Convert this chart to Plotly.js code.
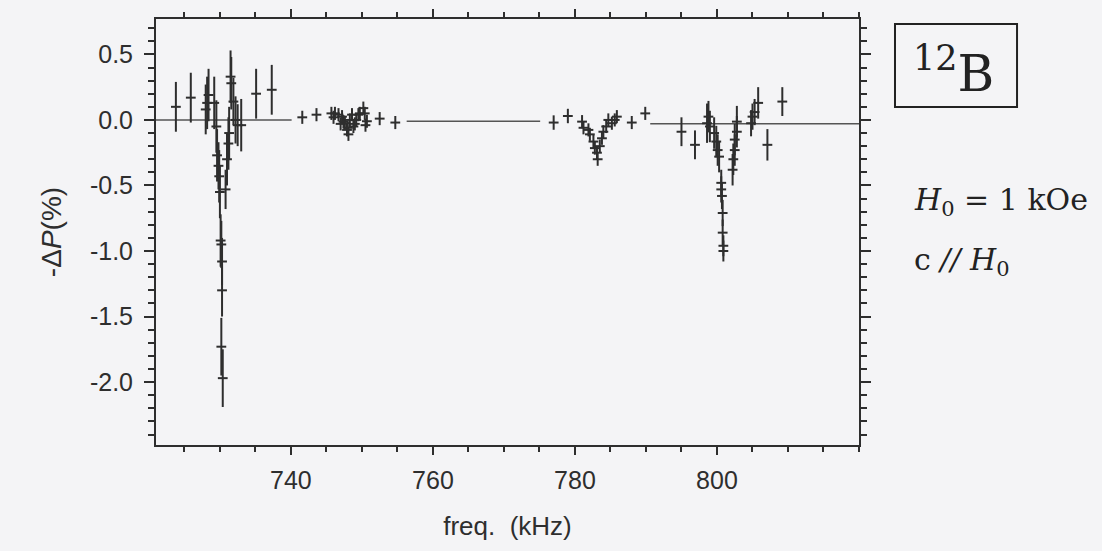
<!DOCTYPE html>
<html>
<head>
<meta charset="utf-8">
<script src="https://cdn.plot.ly/plotly-3.0.1.min.js"></script>
<style>html,body{margin:0;padding:0;background:#f4f4f6;}</style>
</head>
<body>
<div id="chart" style="width:1102px;height:551px;"></div>
<script>
// Region A: broad scan 723-738 kHz (large errors)
var freqA = [723.8, 725.9, 728.0, 728.2, 728.4, 729.2, 729.5, 729.6, 729.8, 729.9, 730.0, 730.1, 730.2, 730.3, 730.3, 730.2, 730.4, 730.8, 731.0, 731.2, 731.3, 731.5, 731.6, 731.9, 732.2, 732.5, 733.0, 735.1, 737.3];
var valA  = [0.10, 0.17, 0.08, 0.13, 0.19, 0.13, -0.05, -0.27, -0.35, -0.43, -0.55, -0.92, -0.95, -1.08, -1.30, -1.73, -1.97, -0.53, -0.30, -0.18, -0.10, 0.33, 0.28, 0.14, 0.00, -0.04, -0.04, 0.20, 0.23];
var errA  = [0.19, 0.19, 0.19, 0.20, 0.20, 0.20, 0.20, 0.20, 0.18, 0.20, 0.20, 0.20, 0.18, 0.18, 0.20, 0.22, 0.22, 0.15, 0.20, 0.20, 0.20, 0.20, 0.20, 0.18, 0.18, 0.16, 0.20, 0.19, 0.19];

// Region B: 741-755 kHz
var freqB = [741.6, 743.6, 745.7, 746.0, 746.2, 746.7, 747.0, 747.2, 747.4, 747.6, 747.9, 748.0, 748.1, 748.3, 748.6, 748.8, 749.0, 749.2, 749.5, 749.7, 750.2, 750.4, 750.5, 750.7, 752.5, 754.7];
var valB  = [0.02, 0.04, 0.05, 0.02, 0.05, 0.04, -0.03, 0.025, -0.013, -0.025, -0.076, -0.06, -0.11, 0.00, 0.04, -0.05, -0.03, 0.00, 0.04, 0.05, 0.09, 0.05, -0.04, -0.01, 0.01, -0.02];
var errB  = [0.05, 0.05, 0.05, 0.05, 0.05, 0.05, 0.05, 0.05, 0.05, 0.05, 0.05, 0.05, 0.05, 0.05, 0.05, 0.05, 0.05, 0.05, 0.05, 0.05, 0.05, 0.05, 0.05, 0.05, 0.05, 0.05];

// Region C: 777-790 kHz
var freqC = [777.0, 779.0, 781.0, 781.2, 781.9, 782.1, 782.6, 782.8, 783.1, 783.2, 783.5, 783.8, 784.0, 784.4, 784.7, 785.2, 785.6, 785.9, 788.0, 789.9];
var valC  = [-0.02, 0.03, -0.013, -0.06, -0.076, -0.11, -0.165, -0.215, -0.25, -0.30, -0.20, -0.14, -0.09, -0.05, 0.00, -0.025, 0.00, 0.025, -0.02, 0.05];
var errC  = [0.055, 0.055, 0.05, 0.05, 0.05, 0.05, 0.05, 0.05, 0.05, 0.05, 0.05, 0.05, 0.05, 0.05, 0.05, 0.05, 0.05, 0.05, 0.05, 0.05];

// Region D: 795-810 kHz
var freqD = [795.0, 796.9, 798.6, 798.8, 799.0, 799.6, 799.9, 800.1, 800.3, 800.6, 800.6, 800.7, 800.8, 800.8, 800.9, 800.9, 802.2, 802.3, 802.5, 802.5, 802.8, 802.8, 804.8, 805.0, 805.3, 805.8, 807.1, 809.2];
var valD  = [-0.09, -0.19, -0.025, 0.025, -0.05, -0.10, -0.165, -0.23, -0.28, -0.48, -0.53, -0.58, -0.71, -0.86, -0.96, -1.00, -0.38, -0.30, -0.23, -0.15, -0.09, -0.013, -0.025, 0.025, 0.06, 0.13, -0.19, 0.14];
var errD  = [0.11, 0.11, 0.15, 0.12, 0.12, 0.12, 0.12, 0.12, 0.12, 0.10, 0.10, 0.10, 0.10, 0.10, 0.08, 0.08, 0.12, 0.12, 0.12, 0.12, 0.12, 0.12, 0.10, 0.10, 0.10, 0.12, 0.12, 0.11];

// Baseline segments
var baseX1 = [721, 740.1], baseY1 = [0, 0];
var baseX2 = [756.3, 775.1], baseY2 = [-0.01, -0.01];
var baseX3 = [790.6, 820], baseY3 = [-0.03, -0.03];

// Tick labels
var xTickVals = [740, 760, 780, 800];
var xTickText = ['740', '760', '780', '800'];
var yTickVals = [0.5, 0, -0.5, -1, -1.5, -2];
var yTickText = ['0.5', '0.0', '-0.5', '-1.0', '-1.5', '-2.0'];

var ink = '#2e2e2e';
function pts(x, y, e) {
  return {
    type: 'scatter', mode: 'markers', x: x, y: y,
    marker: {symbol: 'line-ew', size: 7, line: {width: 2, color: ink}, color: ink},
    error_y: {type: 'data', array: e, visible: true, width: 0, thickness: 2, color: ink},
    showlegend: false, hoverinfo: 'x+y'
  };
}
function base(x, y) {
  return {type: 'scatter', mode: 'lines', x: x, y: y, line: {color: '#555555', width: 1.5}, showlegend: false, hoverinfo: 'skip'};
}

var data = [
  base(baseX1, baseY1), base(baseX2, baseY2), base(baseX3, baseY3),
  pts(freqA, valA, errA), pts(freqB, valB, errB), pts(freqC, valC, errC), pts(freqD, valD, errD)
];

var sans = 'Liberation Sans, Arial, sans-serif';
var serif = 'DejaVu Serif, Liberation Serif, serif';
var axisFont = {family: sans, size: 25, color: ink};
var layout = {
  width: 1102, height: 551,
  margin: {l: 156, r: 243, t: 19, b: 106},
  paper_bgcolor: '#f4f4f6', plot_bgcolor: '#f4f4f6',
  showlegend: false,
  xaxis: {
    range: [721, 820], tickmode: 'array', tickvals: xTickVals, ticktext: xTickText,
    ticks: 'outside', ticklen: 8, tickwidth: 2, tickcolor: ink, ticklabelstandoff: 4,
    minor: {tickmode: 'linear', tick0: 0, dtick: 5, ticks: 'outside', ticklen: 5, tickwidth: 2, tickcolor: ink},
    showline: true, linewidth: 2, linecolor: ink, mirror: 'ticks',
    showgrid: false, zeroline: false, tickfont: axisFont,
    title: {text: 'freq.  (kHz)', font: {family: sans, size: 26, color: ink}, standoff: 24}
  },
  yaxis: {
    range: [-2.48, 0.77], tickmode: 'array', tickvals: yTickVals, ticktext: yTickText,
    ticks: 'outside', ticklen: 10, tickwidth: 2, tickcolor: ink, ticklabelstandoff: 6,
    minor: {tickmode: 'linear', tick0: 0, dtick: 0.1, ticks: 'outside', ticklen: 6, tickwidth: 2, tickcolor: ink},
    showline: true, linewidth: 2, linecolor: ink, mirror: 'ticks',
    showgrid: false, zeroline: false, tickfont: axisFont,
    title: {text: '-Δ<i>P</i>(%)', font: {family: sans, size: 28, color: ink}, standoff: 20}
  },
  shapes: [
    {type: 'rect', xref: 'paper', yref: 'paper', x0: 1.0512, x1: 1.2248, y0: 0.7934, y1: 0.9883, line: {color: '#222', width: 2}}
  ],
  annotations: [
    {xref: 'paper', yref: 'paper', x: 1.135, y: 0.878, xanchor: 'center', yanchor: 'middle', showarrow: false,
     text: '<sup>12</sup>B', font: {family: serif, size: 50, color: '#222'}},
    {xref: 'paper', yref: 'paper', x: 1.0754, y: 0.572, xanchor: 'left', yanchor: 'middle', showarrow: false,
     text: '<i>H</i><sub>0</sub> = 1 kOe', font: {family: serif, size: 30, color: '#222'}},
    {xref: 'paper', yref: 'paper', x: 1.0754, y: 0.43, xanchor: 'left', yanchor: 'middle', showarrow: false,
     text: 'c <i>//</i> <i>H</i><sub>0</sub>', font: {family: serif, size: 30, color: '#222'}}
  ]
};

Plotly.newPlot('chart', data, layout, {displayModeBar: false, staticPlot: true});
</script>
</body>
</html>
